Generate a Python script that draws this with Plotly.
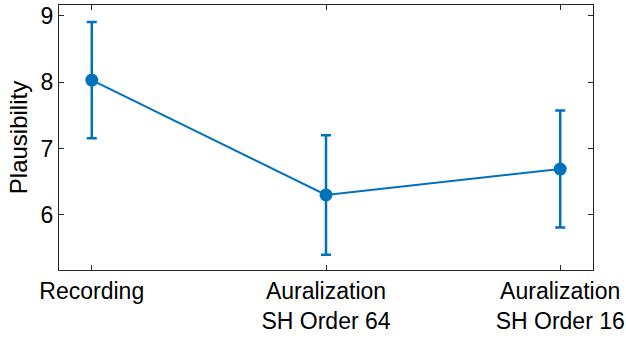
import plotly.graph_objects as go

categories = ["Recording", "Auralization<br>SH Order 64", "Auralization<br>SH Order 16"]
positions = [1, 2, 3]
means = [8.03, 6.30, 6.69]
errors = [0.875, 0.90, 0.88]
yticks = [6, 7, 8, 9]

color = "#0072BD"
axcol = "#262626"
font = "Liberation Sans, Arial, sans-serif"

fig = go.Figure()
fig.add_trace(go.Scatter(
    x=positions, y=means,
    mode="lines+markers",
    line=dict(color=color, width=2),
    marker=dict(color=color, size=13),
    error_y=dict(type="data", array=errors, visible=True, color=color,
                 thickness=2.5, width=5),
    showlegend=False,
))

axis_common = dict(showline=True, linecolor=axcol, linewidth=1, mirror="ticks",
                   ticks="inside", ticklen=5, tickcolor=axcol, tickwidth=1,
                   showgrid=False, zeroline=False, automargin=False)

fig.update_xaxes(range=[0.86, 3.14], tickmode="array", tickvals=positions,
                 ticktext=categories, tickfont=dict(size=23, color="black", family=font),
                 **axis_common)
fig.update_yaxes(range=[5.17, 9.16], tickmode="array", tickvals=yticks,
                 ticktext=[str(v) for v in yticks],
                 tickfont=dict(size=23, color="black", family=font),
                 title=dict(text="Plausibility", font=dict(size=24, color="black", family=font),
                            standoff=6),
                 **axis_common)

fig.update_layout(
    width=626, height=343,
    margin=dict(l=59, r=33, t=5, b=73),
    paper_bgcolor="white", plot_bgcolor="white",
    font=dict(family=font, color="black"),
)

fig.write_html("out.html")
